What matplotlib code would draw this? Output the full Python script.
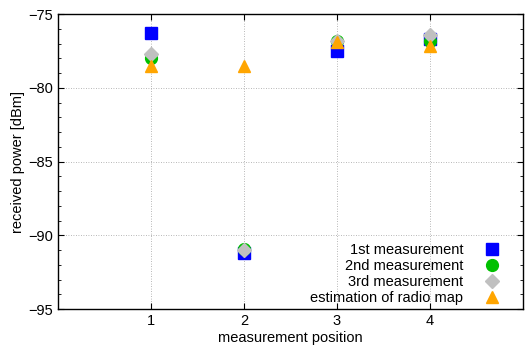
import matplotlib.pyplot as plt
from matplotlib.ticker import MultipleLocator

plt.rcParams['font.family'] = ['Liberation Sans', 'DejaVu Sans']

positions = [1, 2, 3, 4]
first = [-76.3, -91.2, -77.5, -76.7]
second = [-78.0, -90.9, -76.8, -76.8]
third = [-77.7, -91.0, -76.8, -76.4]
radio_map = [-78.5, -78.5, -76.9, -77.2]

fig = plt.figure(figsize=(5.25, 3.5), dpi=100)
ax = fig.add_axes([0.1105, 0.117, 0.885, 0.843])

# draw order: square, circle, diamond, triangle on top
ax.plot(positions, first, 's', color='#0000ff', ms=8.5, mec='#0000ff', label='1st measurement', zorder=3)
ax.plot(positions, second, 'o', color='#00c000', ms=8.5, mec='#00c000', label='2nd measurement', zorder=4)
ax.plot(positions, third, 'D', color='#c0c0c0', ms=7, mec='#c0c0c0', label='3rd measurement', zorder=5)
ax.plot(positions, radio_map, '^', color='#ffa500', ms=9, mec='#ffa500', label='estimation of radio map', zorder=6)

ax.set_xlim(0, 5)
ax.set_ylim(-95, -75)
ax.set_xticks(positions)
ax.yaxis.set_major_locator(MultipleLocator(5))
ax.yaxis.set_minor_locator(MultipleLocator(1))
ax.tick_params(which='both', direction='in', top=True, right=True, labelsize=10.5)
ax.tick_params(which='major', length=4)
ax.tick_params(which='minor', length=2)
ax.grid(True, which='major', color='#a0a0a0', linestyle=(0, (1, 2)), linewidth=0.6)
for s in ax.spines.values():
    s.set_linewidth(1.0)

ax.set_xlabel('measurement position', fontsize=10.5, labelpad=2)
ax.set_ylabel('received power [dBm]', fontsize=10.5, labelpad=2)

# key in the lower right corner, text before the symbol
ax.legend(loc='lower right', bbox_to_anchor=(1 - 20 / 465, 4 / 295),
          frameon=False, markerfirst=False, fontsize=10.5,
          handletextpad=1.2, labelspacing=0.13, borderaxespad=0,
          handlelength=1.5, borderpad=0)

fig.savefig('out.png', dpi=100)
